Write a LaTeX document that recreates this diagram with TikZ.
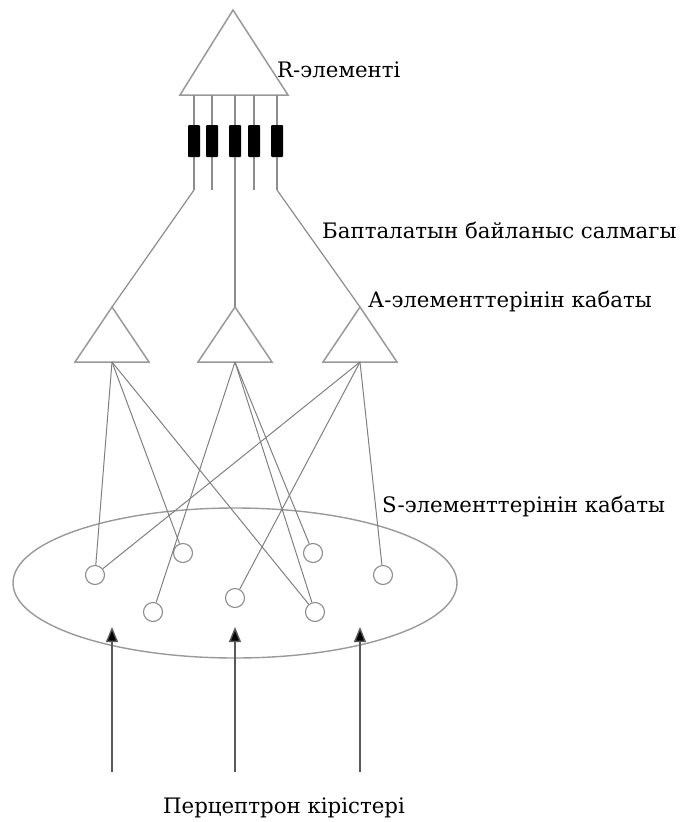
\documentclass[tikz,border=0pt]{standalone}
\usepackage{fontspec}
\setmainfont{DejaVu Serif}
\usetikzlibrary{arrows.meta,shapes.geometric}
\begin{document}
\begin{tikzpicture}[x=1pt,y=-1pt,
  wire/.style={draw=black!45, line width=1.2pt},
  link/.style={draw=black!50, line width=1pt},
  tri/.style={draw=black!40, line width=1.5pt, line join=miter},
  weight/.style={fill=black, draw=none},
  selem/.style={circle, draw=black!45, line width=1.1pt, minimum size=19pt, inner sep=0pt},
  layer/.style={ellipse, draw=black!40, line width=1.4pt, minimum width=444pt, minimum height=150pt, inner sep=0pt},
  txt/.style={inner sep=0pt, font=\fontsize{21.3}{25}\selectfont},
  label/.style={txt, anchor=base west},
  input/.style={draw=black!65, line width=1.4pt, -{Triangle[length=15pt,width=12pt,fill=black]}}
]
\useasboundingbox (0,0) rectangle (686,822);

% R-element
\coordinate (Rtop) at (233,10);
\coordinate (Rl) at (180,95);
\coordinate (Rr) at (288,95);
\draw[tri] (Rtop) -- (Rl) -- (Rr) -- cycle;
\node[label] (Rlab) at (277,77) {R-элементі};

% weights: five lines with black resistors
\foreach \i/\x in {1/194,2/212,3/235,4/254,5/277}{
  \coordinate (w\i t) at (\x,95);
  \coordinate (w\i b) at (\x,190);
  \draw[wire] (w\i t) -- (w\i b);
  \node[weight, minimum width=12pt, minimum height=32pt, inner sep=0pt, rounded corners=1pt] (r\i) at (\x,141) {};
}

% A-elements
\foreach \n/\x in {1/112,2/235,3/360}{
  \coordinate (A\n top) at (\x,307);
  \coordinate (A\n bot) at (\x,362);
  \draw[tri] (A\n top) -- (\x-37,362) -- (\x+37,362) -- cycle;
}

% weighted links down to the A-layer
\draw[wire] (w1b) -- (A1top);
\draw[wire] (w3b) -- (A2top);
\draw[wire] (w5b) -- (A3top);

\node[label] (wlab) at (322,238) {Бапталатын байланыс салмагы};
\node[label] (Alab) at (368,307) {А-элементтерінін кабаты};

% S-layer
\node[layer] (Slayer) at (235,583) {};
\node[label] (Slab) at (382,512) {S-элементтерінін кабаты};

\node[selem] (s1) at (95,575) {};
\node[selem] (s2) at (183,553) {};
\node[selem] (s3) at (153,612) {};
\node[selem] (s4) at (235,598) {};
\node[selem] (s5) at (313,553) {};
\node[selem] (s6) at (315,612) {};
\node[selem] (s7) at (383,575) {};

% S -> A connections
\draw[link] (A1bot) -- (s1);
\draw[link] (A1bot) -- (s2);
\draw[link] (A1bot) -- (s6);
\draw[link] (A2bot) -- (s3);
\draw[link] (A2bot) -- (s5);
\draw[link] (A2bot) -- (s6);
\draw[link] (A3bot) -- (s1);
\draw[link] (A3bot) -- (s4);
\draw[link] (A3bot) -- (s7);

% perceptron inputs
\foreach \k/\x in {1/112,2/235,3/360}{
  \coordinate (in\k) at (\x,772);
  \coordinate (tip\k) at (\x,627);
  \draw[input] (in\k) -- (tip\k);
}
\node[txt, anchor=base] (inlab) at (284,813) {Перцептрон кірістері};
\end{tikzpicture}
\end{document}
